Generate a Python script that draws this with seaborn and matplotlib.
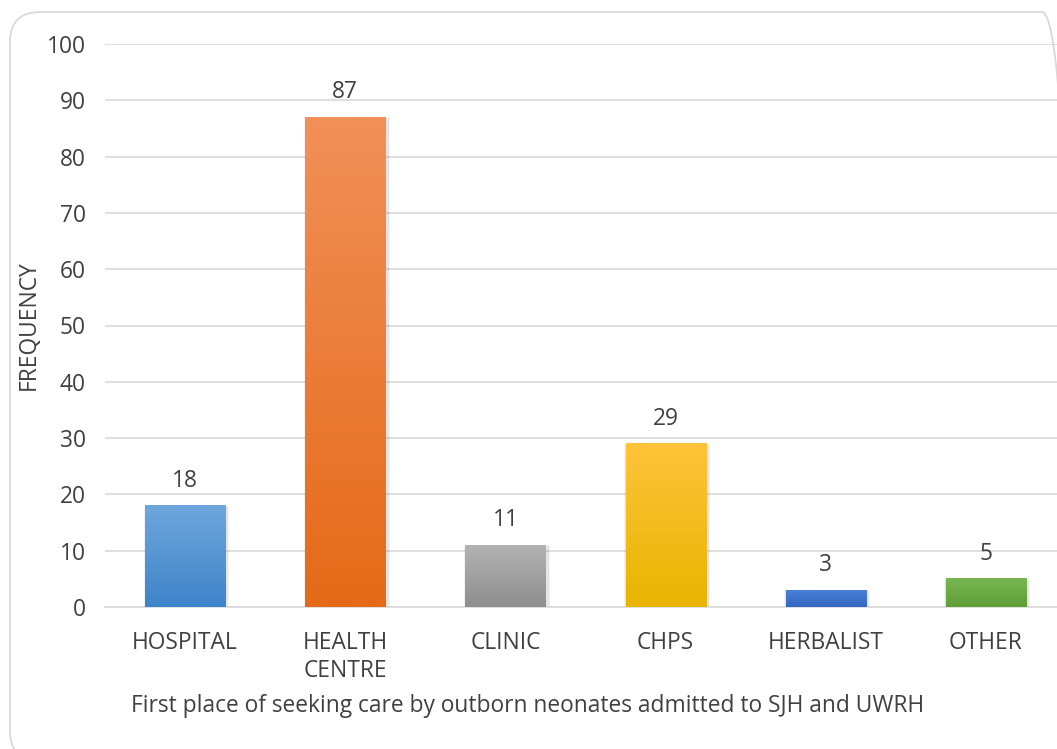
import numpy as np
import pandas as pd
import seaborn as sns
import matplotlib.pyplot as plt
from matplotlib.patches import FancyBboxPatch
from matplotlib.colors import LinearSegmentedColormap
from matplotlib.transforms import IdentityTransform

categories = ["HOSPITAL", "HEALTH\nCENTRE", "CLINIC", "CHPS", "HERBALIST", "OTHER"]
values = [18, 87, 11, 29, 3, 5]
top_colors = ["#6fa6dd", "#f29059", "#b3b3b3", "#ffc33a", "#4a7fd6", "#78b752"]
bottom_colors = ["#3e84c9", "#e46a17", "#8e8e8e", "#e9b400", "#3366c0", "#5e9e36"]
xlabel = "First place of seeking care by outborn neonates admitted to SJH and UWRH"
ylabel = "FREQUENCY"

sns.set_theme(style="white")
plt.rcParams['font.family'] = ['Open Sans', 'DejaVu Sans']

FS = 16.4
TXT = "#404040"

fig = plt.figure(figsize=(10.57, 7.49), dpi=100)
ax = fig.add_axes([105/1057, 1 - 607/749, (1066-105)/1057, (607-44)/749])

df = pd.DataFrame({"cat": categories, "val": values})
sns.barplot(data=df, x="cat", y="val", ax=ax, width=0.5, color="white", zorder=2)

ax.set_yticks(range(0, 101, 10))
ax.yaxis.grid(True, color="#d9d9d9", linewidth=1.2, zorder=0)
ax.set_axisbelow(True)
for s in ["top", "right", "left"]:
    ax.spines[s].set_visible(False)
ax.spines["bottom"].set_color("#d9d9d9")
ax.spines["bottom"].set_linewidth(1.2)
ax.tick_params(axis="y", length=0, labelsize=FS, colors=TXT, pad=14)
ax.tick_params(axis="x", length=0, labelsize=FS, colors=TXT, pad=17)
for lab in ax.get_xticklabels():
    lab.set_linespacing(1.25)
ax.set_xlabel(xlabel, fontsize=FS, color=TXT)
ax.set_ylabel(ylabel, fontsize=FS, color=TXT)
ax.xaxis.set_label_coords((528 - 105) / 961, (607 - 694) / 563)
ax.yaxis.set_label_coords((41 - 105) / 961, 0.5)

for patch, tc, bc, v in zip(ax.patches, top_colors, bottom_colors, values):
    x0, y0 = patch.get_x(), patch.get_y()
    w, h = patch.get_width(), patch.get_height()
    cmap = LinearSegmentedColormap.from_list("g", [bc, tc])
    grad = np.linspace(0, 1, 256).reshape(-1, 1)
    ax.bar(x0 + w / 2 + 0.006, h, width=w + 0.03, bottom=y0, color="#000000", alpha=0.10, zorder=1.5)
    ax.imshow(grad, cmap=cmap, origin="lower", aspect="auto",
              extent=[x0, x0 + w, y0, y0 + h], zorder=3)
    ax.text(x0 + w / 2, y0 + h + 2.3, str(v), ha="center", va="bottom", fontsize=FS, color=TXT, zorder=4)
    patch.set_visible(False)

ax.set_xlim(-0.5, 5.5)
ax.set_ylim(0, 100)

border = FancyBboxPatch((10, -12), 1062, 749,
                        boxstyle="round,pad=0,rounding_size=30",
                        transform=IdentityTransform(), facecolor="none",
                        edgecolor="#d9d9d9", linewidth=1.3, clip_on=False)
fig.patches.append(border)

fig.savefig("out.png", dpi=100)
